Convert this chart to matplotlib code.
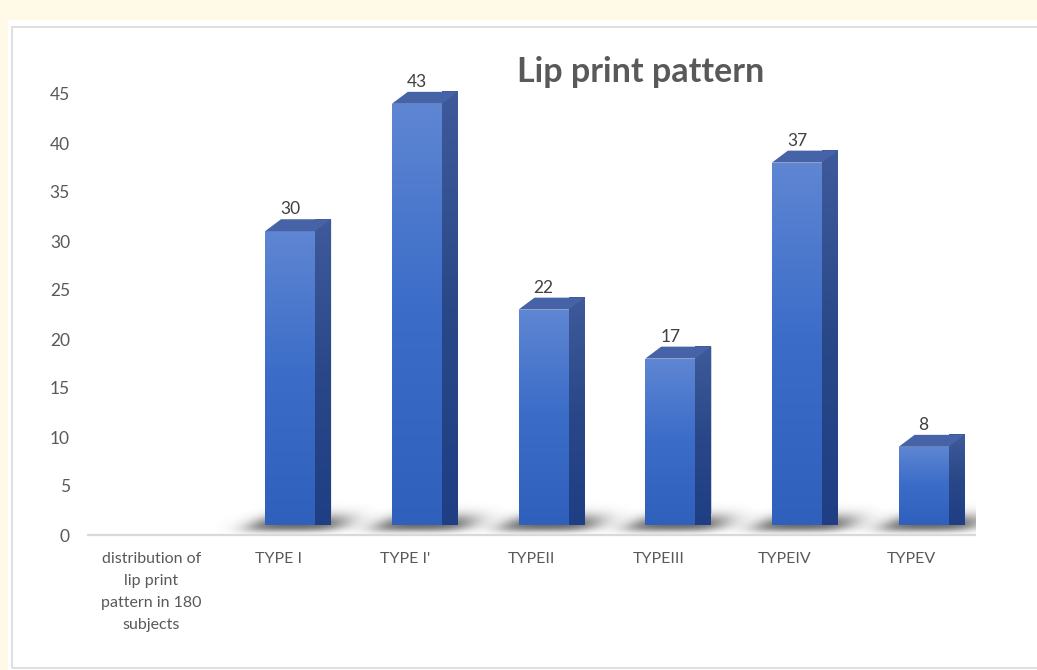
import numpy as np
import matplotlib.pyplot as plt
from matplotlib.patches import Rectangle, Polygon
from matplotlib.colors import LinearSegmentedColormap

plt.rcParams['font.family'] = ['Lato', 'DejaVu Sans']

categories = ['distribution of\nlip print\npattern in 180\nsubjects',
              'TYPE I', "TYPE I'", 'TYPEII', 'TYPEIII', 'TYPEIV', 'TYPEV']
counts = [np.nan, 30, 43, 22, 17, 37, 8]
yticks = [0, 5, 10, 15, 20, 25, 30, 35, 40, 45]

W, H = 1037, 670
fig = plt.figure(figsize=(W / 100, H / 100), dpi=100, facecolor='#FFFAE8')

# white chart panel with thin border (behind the axes)
fig.patches.append(Rectangle((8 / W, 0), 1, 1 - 20 / H, transform=fig.transFigure,
                             facecolor='white', edgecolor='none', zorder=-2))
fig.patches.append(Rectangle((12 / W, 2 / H), 1.2, 1 - 29 / H, transform=fig.transFigure,
                             facecolor='none', edgecolor='#D9D9D9', lw=1.2, zorder=-1))

ax = fig.add_axes([88 / W, 1 - 535 / H, 887 / W, 441 / H])
ax.set_facecolor('none')

# 3d look parameters
shift = 0.095     # front face offset from category centre
bw = 0.395        # front face width
dx, dy = 0.126, 1.22  # depth of the box
lift = 1.0        # front face sits slightly above the floor

front_cmap = LinearSegmentedColormap.from_list('front', ['#2E60BC', '#3A6CC8', '#5F86D3'])
side_cmap = LinearSegmentedColormap.from_list('side', ['#1F3E84', '#2A4888', '#3E5A9A'])
grad = np.linspace(0, 1, 256).reshape(-1, 1)


def sig(t):
    return 1 / (1 + np.exp(-t))


for i, v in enumerate(counts):
    if np.isnan(v):
        continue
    cx = i + shift
    x0, x1 = cx - bw / 2, cx + bw / 2
    y0, y1 = lift, lift + v

    # soft floor shadow, sheared back to the right
    xs = np.linspace(x0 - 0.45, x1 + dx + 0.5, 260)
    ys = np.linspace(0.0, 5.0, 120)
    X, Y = np.meshgrid(xs, ys)
    skew = 0.09 * (Y - lift)
    gx = sig((X - (x0 - 0.1 + skew)) / 0.06) * sig(-(X - (x1 + dx + 0.08 + skew)) / 0.07)
    gy = np.exp(-((Y - 1.0) / 1.1) ** 2) * sig((Y - 0.3) / 0.2)
    img = np.zeros((len(ys), len(xs), 4))
    img[..., :3] = 0.15
    img[..., 3] = 0.7 * gx * gy
    ax.imshow(img, extent=(xs[0], xs[-1], ys[0], ys[-1]), origin='lower',
              aspect='auto', zorder=1, interpolation='bilinear')

    bar = ax.bar(cx, v, width=bw, bottom=lift, color='#3A6CC8', zorder=2)[0]
    im = ax.imshow(grad, extent=(x0, x1, y0, y1), origin='lower', cmap=front_cmap,
                   aspect='auto', zorder=3)
    im.set_clip_path(bar)

    side = Polygon([(x1, y0), (x1 + dx, y0 + dy), (x1 + dx, y1 + dy), (x1, y1)],
                   closed=True, facecolor='#2A4888', edgecolor='none', zorder=2, clip_on=False)
    ax.add_patch(side)
    ims = ax.imshow(grad, extent=(x1, x1 + dx, y0, y1 + dy), origin='lower', cmap=side_cmap,
                    aspect='auto', zorder=3, clip_on=False)
    ims.set_clip_path(side)

    top = Polygon([(x0, y1), (x1, y1), (x1 + dx, y1 + dy), (x0 + dx, y1 + dy)],
                  closed=True, facecolor='#4563A6', edgecolor='none', zorder=3, clip_on=False)
    ax.add_patch(top)

    ax.text(cx, y1 + dy + 0.2, f'{int(v)}', ha='center', va='bottom',
            fontsize=12.5, color='#404040', zorder=4)

ax.set_xlim(-0.5, len(categories) - 0.5)
ax.set_ylim(0, 45)
ax.set_yticks(yticks)
ax.set_xticks(range(len(categories)))
ax.set_xticklabels(categories, linespacing=1.75)
ax.tick_params(axis='y', length=0, pad=13, labelsize=12.5, labelcolor='#595959')
ax.tick_params(axis='x', length=0, pad=12, labelsize=11.5, labelcolor='#595959')
for s in ['left', 'right', 'top']:
    ax.spines[s].set_visible(False)
ax.spines['bottom'].set_color('#D9D9D9')
ax.spines['bottom'].set_linewidth(1.6)
ax.spines['bottom'].set_zorder(5)

fig.text(641 / W, 1 - 72 / H, 'Lip print pattern', ha='center', va='center',
         fontsize=24.5, fontweight='bold', color='#595959')

fig.savefig('out.png', dpi=100, facecolor=fig.get_facecolor())
